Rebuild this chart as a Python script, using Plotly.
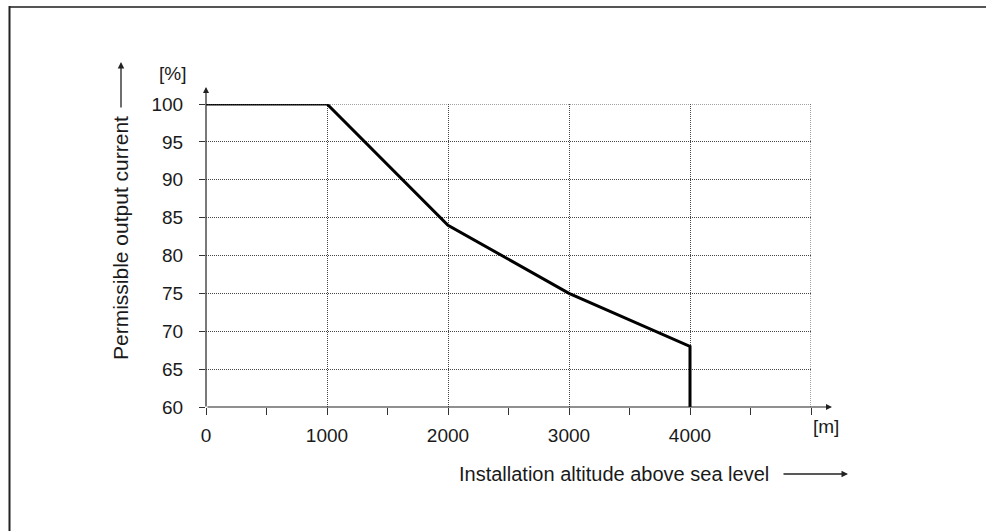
import plotly.graph_objects as go

altitude = [0, 1000, 2000, 3000, 4000, 4000]
current = [100, 100, 84, 75, 68, 60]
x_major = [0, 1000, 2000, 3000, 4000, 5000]
x_labels = ["0", "1000", "2000", "3000", "4000", ""]
y_ticks = [60, 65, 70, 75, 80, 85, 90, 95, 100]

W, H = 986, 531
L, R, T, B = 206, 811, 104, 407
pw, ph = R - L, B - T

def px(x):
    return (x - L) / pw

def py(y):
    return (B - y) / ph

FONT = "Liberation Sans, Arial, sans-serif"
TXT = "#1a1a1a"
GRID = "#444"
fig = go.Figure()
fig.add_trace(go.Scatter(x=altitude, y=current, mode="lines",
                         line=dict(color="black", width=3), showlegend=False,
                         hoverinfo="skip", cliponaxis=False))

fig.update_layout(
    width=W, height=H, margin=dict(l=L, r=W - R, t=T, b=H - B, pad=0),
    paper_bgcolor="white", plot_bgcolor="white",
    font=dict(family=FONT, size=19, color=TXT),
    xaxis=dict(range=[0, 5000], tickvals=x_major, ticktext=x_labels,
               showgrid=True, gridcolor=GRID, griddash="1px,1px", gridwidth=1,
               ticks="outside", ticklen=7, tickcolor="#333", tickwidth=1,
               ticklabelstandoff=4,
               minor=dict(dtick=500, tick0=0, ticks="outside", ticklen=7,
                          tickcolor="#333", showgrid=False),
               showline=False, zeroline=False, fixedrange=True),
    yaxis=dict(range=[60, 100], tickvals=y_ticks,
               showgrid=True, gridcolor=GRID, griddash="1px,1px", gridwidth=1,
               ticks="outside", ticklen=6, tickcolor="#333", tickwidth=1,
               ticklabelstandoff=12,
               showline=False, zeroline=False, fixedrange=True),
)

shapes = []
# grid at edges (right and top)
shapes.append(dict(type="line", xref="x", yref="y", x0=5000, x1=5000, y0=60, y1=100,
                   line=dict(color=GRID, width=1, dash="1px,1px")))
shapes.append(dict(type="line", xref="x", yref="y", x0=0, x1=5000, y0=100, y1=100,
                   line=dict(color=GRID, width=1, dash="1px,1px")))
# outer frame
shapes.append(dict(type="line", xref="paper", yref="paper", x0=px(9), x1=px(990),
                   y0=py(7), y1=py(7), line=dict(color="#555", width=2)))
shapes.append(dict(type="line", xref="paper", yref="paper", x0=px(9.5), x1=px(9.5),
                   y0=py(6), y1=py(535), line=dict(color="#222", width=2)))
fig.update_layout(shapes=shapes)

ann = []
# axis lines with arrows
ann.append(dict(xref="x", yref="paper", x=0, y=py(87), ax=0, ay=B - 87 + 1,
                text="", showarrow=True, arrowhead=2, arrowsize=1, arrowwidth=1.2,
                arrowcolor="#222", standoff=0))
ann.append(dict(xref="paper", yref="y", x=px(832), y=60, ax=-(832 - L), ay=0,
                text="", showarrow=True, arrowhead=2, arrowsize=1, arrowwidth=1.2,
                arrowcolor="#222", standoff=0))
# unit labels
ann.append(dict(xref="paper", yref="paper", x=px(172), y=py(73), text="[%]",
                xanchor="center", yanchor="middle",
                showarrow=False, font=dict(size=19, color=TXT)))
ann.append(dict(xref="paper", yref="paper", x=px(826), y=py(426), text="[m]",
                xanchor="center", yanchor="middle",
                showarrow=False, font=dict(size=19, color=TXT)))
# axis titles
ann.append(dict(xref="paper", yref="paper", x=px(457), y=py(474), text="Installation altitude above sea level",
                xanchor="left", yanchor="middle", showarrow=False, font=dict(size=20, color=TXT)))
ann.append(dict(xref="paper", yref="paper", x=px(848), y=py(474), ax=-66, ay=0,
                text="", showarrow=True, arrowhead=2, arrowsize=1, arrowwidth=1.3,
                arrowcolor="#222", standoff=0))
ann.append(dict(xref="paper", yref="paper", x=px(120), y=py(238), text="Permissible output current",
                xanchor="center", yanchor="middle",
                textangle=-90, showarrow=False, font=dict(size=21, color=TXT)))
ann.append(dict(xref="paper", yref="paper", x=px(121), y=py(62), ax=0, ay=47,
                text="", showarrow=True, arrowhead=2, arrowsize=1, arrowwidth=1.3,
                arrowcolor="#222", standoff=0))
fig.update_layout(annotations=ann)

fig.write_html("out.html", config={"displayModeBar": False},
               post_script="document.body.style.margin='0';")
